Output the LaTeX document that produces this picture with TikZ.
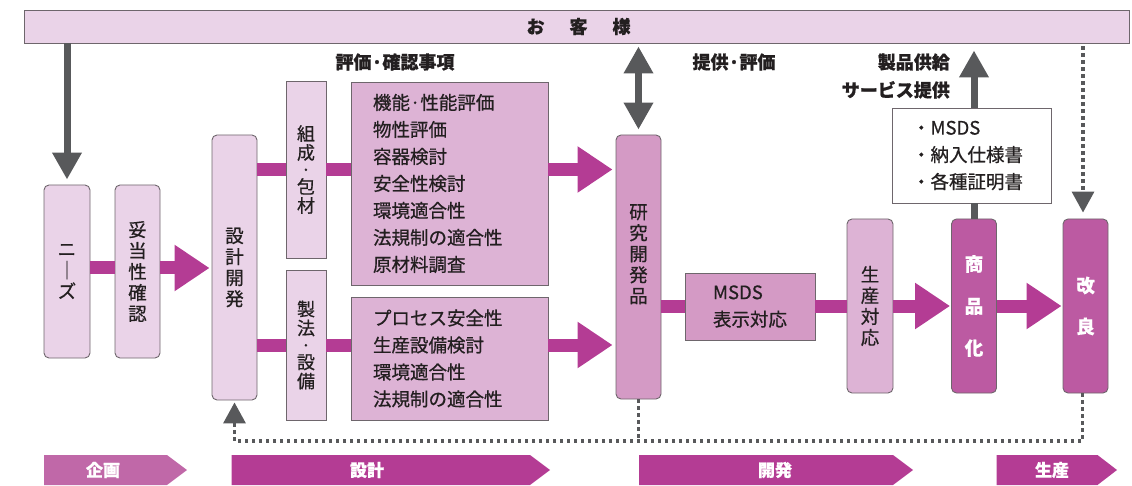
\documentclass[tikz,border=0pt]{standalone}
\usepackage{fontspec}
\setmainfont{Noto Sans CJK JP}[FakeBold=0.7]
\usetikzlibrary{arrows.meta}
\definecolor{lp}{HTML}{EAD3E8}
\definecolor{mp}{HTML}{DDB3D5}
\definecolor{kp}{HTML}{D49AC5}
\definecolor{dp}{HTML}{BC5AA2}
\definecolor{mag}{HTML}{B43C94}
\definecolor{kik}{HTML}{C068A8}
\definecolor{gr}{HTML}{58595B}
\definecolor{bd}{HTML}{6E666C}
\definecolor{tx}{HTML}{231F20}
\begin{document}
\begin{tikzpicture}[x=1pt,y=-1pt,
  box/.style={draw=bd, line width=0.9pt, inner sep=0pt, align=center, text=tx},
  rbox/.style={box, rounded corners=5pt},
  vtext/.style={font=\fontsize{18.5}{21}\selectfont},
  vtextb/.style={font=\fontsize{18}{19}\selectfont},
  ltext/.style={font=\fontsize{18.5}{27}\selectfont, align=left},
  lab/.style={font=\fontsize{18}{28}\selectfont\bfseries, inner sep=0pt, text=tx},
  conbar/.style={draw=mag, line width=13pt},
  fat/.style={draw=mag, line width=13pt, -{Triangle[length=35pt,width=44pt]}},
  garrow/.style={draw=gr, line width=7pt, -{Triangle[length=27pt,width=28pt]}},
  gdouble/.style={draw=gr, line width=7pt, {Triangle[length=27pt,width=28pt]}-{Triangle[length=27pt,width=28pt]}},
  dotline/.style={draw=gr, line width=3.4pt, dash pattern=on 3.4pt off 3.6pt},
  dotarrow/.style={dotline, -{Triangle[length=21pt,width=22pt]}},
  phase/.style={font=\fontsize{17}{17}\selectfont\bfseries, text=white, inner sep=0pt}
]
\useasboundingbox (0,0) rectangle (1132,486);

% customer bar
\node[box, fill=lp, minimum width=1105pt, minimum height=33pt, font=\fontsize{18}{18}\selectfont\bfseries] (bar) at (577,26.5) {\hspace{3pt}お\hspace{25pt}客\hspace{25pt}様};

% planning
\node[rbox, fill=lp, minimum width=46pt, minimum height=173pt, vtext] (needs) at (67,271.5) {ニ\\｜\\ズ};
\node[rbox, fill=lp, minimum width=45pt, minimum height=173pt, vtext] (dato) at (137.5,271.5) {妥\\当\\性\\確\\認};

% design
\node[rbox, fill=lp, minimum width=45pt, minimum height=265pt, vtext] (sekkei) at (234.5,267.5) {設\\計\\開\\発};
\node[box, fill=lp, minimum width=40pt, minimum height=177pt, vtextb] (sosei) at (306,169.5) {組\\成\\[-2pt]·\\[-2pt]包\\材};
\node[box, fill=lp, minimum width=40pt, minimum height=150pt, vtextb] (seiho) at (306,345) {製\\法\\[-2pt]·\\[-2pt]設\\備};
\node[box, fill=mp, minimum width=197pt, minimum height=203pt, text width=153pt, ltext] (eval1) at (449.5,183.5)
  {機能·性能評価\\物性評価\\容器検討\\安全性検討\\環境適合性\\法規制の適合性\\原材料調査};
\node[box, fill=mp, minimum width=197pt, minimum height=123pt, text width=153pt, ltext] (eval2) at (449.5,358.5)
  {プロセス安全性\\生産設備検討\\環境適合性\\法規制の適合性};

% development
\node[rbox, fill=kp, minimum width=45pt, minimum height=264pt, vtext] (kenkyu) at (638.5,267) {研\\究\\開\\発\\品\\[6pt]};
\node[box, fill=kp, minimum width=130pt, minimum height=67pt, text width=74pt, ltext] (msds) at (750,306.5) {MSDS\\表示対応};

% production
\node[rbox, fill=mp, minimum width=46pt, minimum height=174pt, vtext] (seisan) at (870,306) {生\\産\\対\\応};
\node[rbox, fill=dp, minimum width=45pt, minimum height=174pt, font=\fontsize{18.5}{42}\selectfont\bfseries, text=white] (shohin) at (974,306) {商\\品\\化};
\node[rbox, fill=dp, minimum width=45pt, minimum height=174pt, font=\fontsize{18.5}{41}\selectfont\bfseries, text=white] (kairyo) at (1085.5,306) {改\\良};
\node[box, fill=white, minimum width=159pt, minimum height=95pt, text width=119pt, ltext] (docs) at (971.5,155.5) {・MSDS\\・納入仕様書\\・各種証明書};

% labels
\node[lab] (l1) at (395,62) {評価·確認事項};
\node[lab] (l2) at (734,62) {提供·評価};
\node[lab, anchor=east, align=right] (l3) at (950,76) {製品供給\\サービス提供};

% connectors
\path ([yshift=3.5pt]dato.east) coordinate (d1);
\draw[conbar] (needs.east |- d1) -- (dato.west |- d1);
\draw[fat, shorten >=2pt] (d1) -- (sekkei.west |- d1);
\draw[conbar] (sekkei.east |- sosei.west) -- (sosei.west);
\draw[conbar] (sosei.east) -- (eval1.west |- sosei.east);
\draw[conbar] (sekkei.east |- seiho.west) -- (seiho.west);
\draw[conbar] (seiho.east) -- (eval2.west |- seiho.east);
\draw[fat, shorten >=3pt] (eval1.east |- sosei.east) -- (kenkyu.west |- sosei.east);
\draw[fat, shorten >=3pt] (eval2.east |- seiho.east) -- (kenkyu.west |- seiho.east);
\draw[conbar] (kenkyu.east |- msds.west) -- (msds.west);
\draw[conbar] (msds.east) -- (seisan.west |- msds.east);
\draw[fat, shorten >=1pt] (seisan.east) -- (shohin.west);
\draw[fat, shorten >=1pt] (shohin.east) -- (kairyo.west);

% gray arrows
\draw[garrow, shorten >=5pt] (needs.north |- bar.south) -- (needs.north);
\draw[gdouble, shorten <=3pt, shorten >=5pt] (kenkyu.north |- bar.south) -- (kenkyu.north);
\draw[draw=gr, line width=7pt] (shohin.north) -- (shohin.north |- docs.south);
\draw[garrow, shorten >=7pt] (shohin.north |- docs.north) -- (shohin.north |- bar.south);

% dotted
\coordinate (fb) at (0,441);
\draw[dotarrow, shorten <=3pt, shorten >=6pt] ([xshift=-2.5pt]kairyo.north |- bar.south) -- ([xshift=-2.5pt]kairyo.north);
\draw[dotarrow, shorten >=2pt] ([xshift=-3pt]kairyo.south) -- ([xshift=-3pt]kairyo.south |- fb) -- (sekkei.south |- fb) -- (sekkei.south);
\draw[dotline] (kenkyu.south) -- (kenkyu.south |- fb);

% phases
\fill[kik] (44,455) -- (167,455) -- (187,470) -- (167,485) -- (44,485) -- cycle;
\node[phase] (p1) at (103,470) {企画};
\fill[mag] (231.5,455) -- (530,455) -- (550,470) -- (530,485) -- (231.5,485) -- cycle;
\node[phase] (p2) at (367,470) {設計};
\fill[mag] (639,455) -- (893,455) -- (913,470) -- (893,485) -- (639,485) -- cycle;
\node[phase] (p3) at (775,470) {開発};
\fill[mag] (996.5,455) -- (1097.5,455) -- (1117,470) -- (1097.5,485) -- (996.5,485) -- cycle;
\node[phase] (p4) at (1052,470) {生産};
\end{tikzpicture}
\end{document}
